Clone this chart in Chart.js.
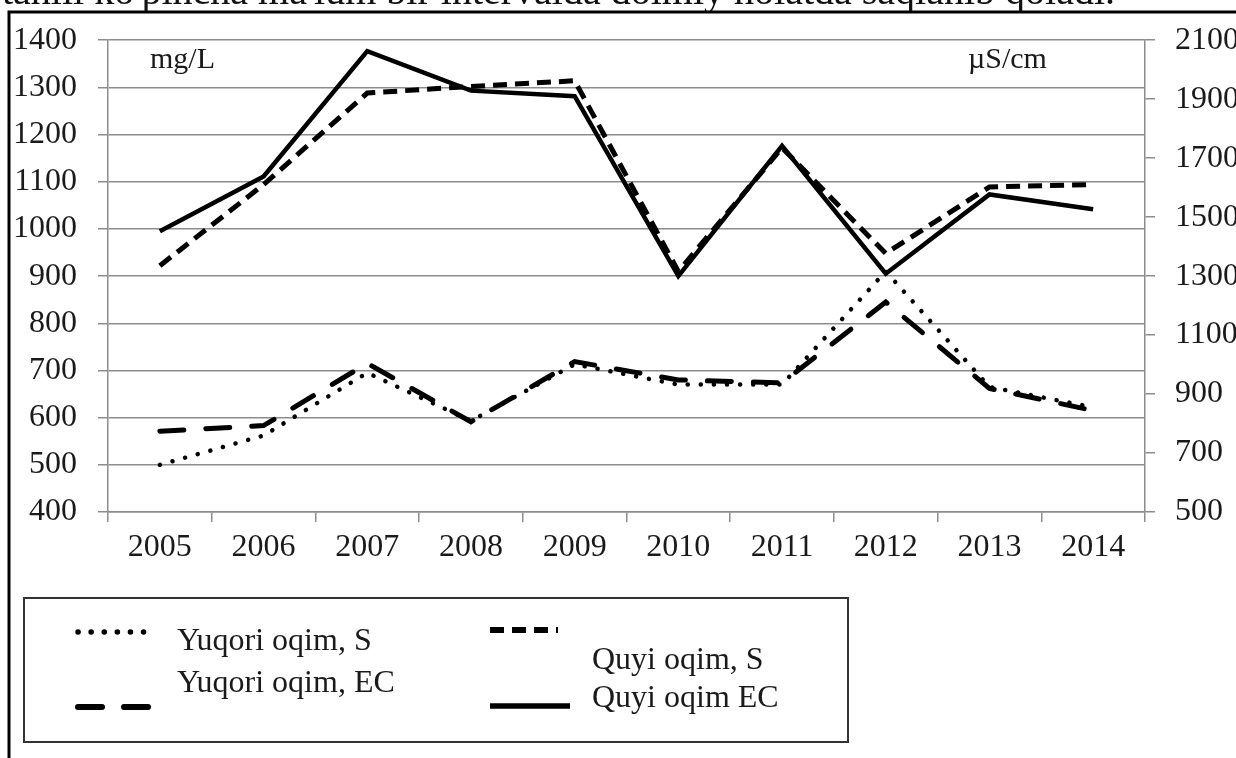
<!DOCTYPE html>
<html>
<head>
<meta charset="utf-8">
<script src="https://cdn.jsdelivr.net/npm/chart.js@4.4.1/dist/chart.umd.min.js"></script>
<style>
  html, body { margin: 0; padding: 0; background: #fff; }
  #wrap { position: relative; width: 1236px; height: 758px; overflow: hidden; }
  #myChart { position: absolute; left: 0; top: 0; }
  #topline { position: absolute; left: 0; top: 0; width: 1236px; height: 11px; overflow: hidden; }
  #topline span { position: absolute; left: 2px; top: -29px; font: 40px "Liberation Serif", serif; line-height: 40px; white-space: nowrap; color: #111; }
</style>
</head>
<body>
<div id="wrap">
  <canvas id="myChart" width="1236" height="758"></canvas>
  <div id="topline"><span>tahlil ko'pincha ma'lum bir intervalda doimiy holatda saqlanib qoladi.</span></div>
</div>
<script>
const ctx = document.getElementById("myChart");

// categories
const years = ["2005", "2006", "2007", "2008", "2009", "2010", "2011", "2012", "2013", "2014"];

// mg/L (left axis)
const yuqoriS = [500, 562, 695, 593, 713, 670, 670, 910, 665, 622];
const quyiS = [922, 1094, 1288, 1302, 1314, 910, 1172, 948, 1089, 1094];

// µS/cm (right axis)
const yuqoriEC = [774, 793, 1004, 806, 1010, 948, 938, 1212, 919, 844];
const quyiEC = [1452, 1638, 2063, 1929, 1910, 1300, 1742, 1308, 1577, 1527];

const seriesNames = ["Yuqori oqim, S", "Yuqori oqim, EC", "Quyi oqim, S", "Quyi oqim EC"];
const unitLeft = "mg/L";
const unitRight = "µS/cm";

const SERIF = '"Liberation Serif", "Times New Roman", serif';
const TEXT = "#1a1a1a";
const GRID = "#8c8c8c";

// draws the frame, unit labels and the boxed legend
const decorations = {
    id: "decorations",
    afterDraw(chart) {
        const c = chart.ctx;
        c.save();

        // outer frame (top and left edge of the figure)
        c.strokeStyle = "#000";
        c.lineWidth = 3;
        c.beginPath();
        c.moveTo(9, 758);
        c.lineTo(9, 12);
        c.lineTo(1236, 12);
        c.stroke();

        // unit labels
        c.fillStyle = TEXT;
        c.font = `30px ${SERIF}`;
        c.textBaseline = "alphabetic";
        c.textAlign = "left";
        c.fillText(unitLeft, 150, 68);
        c.fillText(unitRight, 968, 68);

        // legend box
        c.strokeStyle = "#333";
        c.lineWidth = 2;
        c.strokeRect(24, 598, 824, 144);

        const slots = [
            { x1: 78, x2: 147, y: 632, tx: 177, ty: 650 },
            { x1: 78, x2: 152, y: 707, tx: 177, ty: 692 },
            { x1: 490, x2: 558, y: 630, tx: 592, ty: 669 },
            { x1: 490, x2: 570, y: 706, tx: 592, ty: 707 }
        ];

        chart.data.datasets.forEach((ds, i) => {
            const s = slots[i];
            c.save();
            c.strokeStyle = ds.borderColor;
            c.lineWidth = ds.borderWidth + 1;
            c.lineCap = ds.borderCapStyle || "butt";
            c.setLineDash(ds.borderDash || []);
            c.beginPath();
            c.moveTo(s.x1, s.y);
            c.lineTo(s.x2, s.y);
            c.stroke();
            c.restore();

            c.fillStyle = TEXT;
            c.font = `32px ${SERIF}`;
            c.fillText(ds.label, s.tx, s.ty);
        });

        c.restore();
    }
};

const chart = new Chart(ctx, {
    type: "line",
    data: {
        labels: years,
        datasets: [
            {
                label: seriesNames[0],
                data: yuqoriS,
                yAxisID: "y",
                borderColor: "#000",
                borderWidth: 4.5,
                borderDash: [0.1, 13],
                borderCapStyle: "round",
                borderJoinStyle: "round"
            },
            {
                label: seriesNames[1],
                data: yuqoriEC,
                yAxisID: "y1",
                borderColor: "#000",
                borderWidth: 5,
                borderDash: [24, 22],
                borderCapStyle: "round"
            },
            {
                label: seriesNames[2],
                data: quyiS,
                yAxisID: "y",
                borderColor: "#000",
                borderWidth: 5,
                borderDash: [14, 8]
            },
            {
                label: seriesNames[3],
                data: quyiEC,
                yAxisID: "y1",
                borderColor: "#000",
                borderWidth: 4.5
            }
        ]
    },
    options: {
        responsive: false,
        animation: false,
        layout: {
            padding: { top: 39, left: 0, right: 0, bottom: 186 }
        },
        elements: {
            point: { radius: 0, hoverRadius: 0 },
            line: { tension: 0 }
        },
        scales: {
            x: {
                offset: true,
                grid: {
                    offset: true,
                    drawOnChartArea: false,
                    tickLength: 10,
                    color: GRID,
                    lineWidth: 1.5
                },
                border: { color: GRID, width: 1.5 },
                ticks: {
                    font: { family: SERIF, size: 32 },
                    color: TEXT,
                    padding: 6,
                    maxRotation: 0,
                    autoSkip: false
                },
                afterFit: (scale) => { scale.height = 60; }
            },
            y: {
                position: "left",
                min: 400,
                max: 1400,
                ticks: {
                    stepSize: 100,
                    font: { family: SERIF, size: 32 },
                    color: TEXT,
                    padding: 21,
                    callback: (value) => String(value)
                },
                grid: { color: GRID, lineWidth: 1.5, tickLength: 10 },
                border: { color: GRID, width: 1.5 },
                afterFit: (scale) => { scale.width = 108; }
            },
            y1: {
                position: "right",
                min: 500,
                max: 2100,
                ticks: {
                    stepSize: 200,
                    font: { family: SERIF, size: 32 },
                    color: TEXT,
                    padding: 20,
                    callback: (value) => String(value)
                },
                grid: { drawOnChartArea: false, color: GRID, lineWidth: 1.5, tickLength: 10 },
                border: { color: GRID, width: 1.5 },
                afterFit: (scale) => { scale.width = 91; }
            }
        },
        plugins: {
            legend: { display: false },
            tooltip: { enabled: false }
        }
    },
    plugins: [decorations]
});
</script>
</body>
</html>
